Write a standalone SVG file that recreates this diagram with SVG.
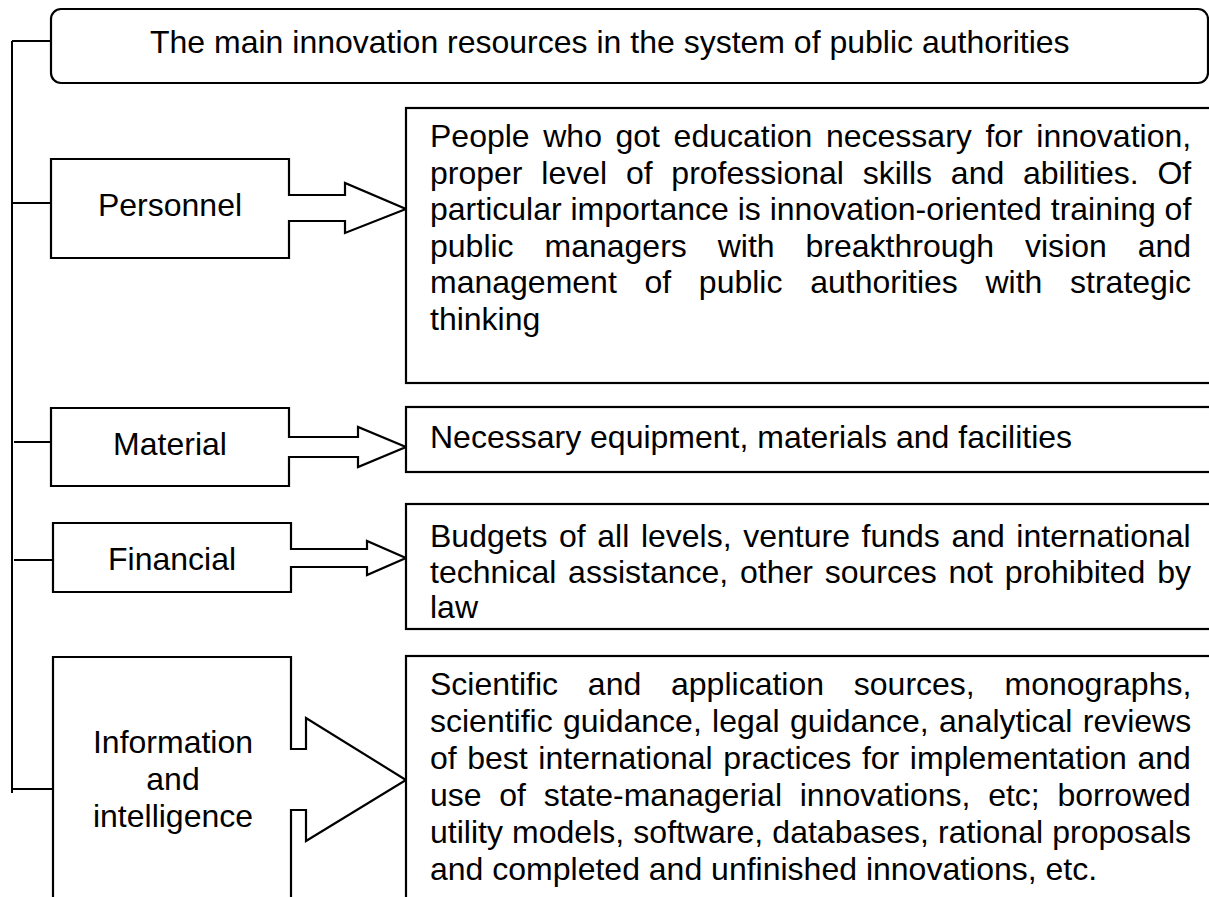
<svg xmlns="http://www.w3.org/2000/svg" width="1209" height="897" viewBox="0 0 1209 897">
<style>
.box{fill:#fff;stroke:#000;stroke-width:2.2}
.ln{fill:none;stroke:#000;stroke-width:2}
text{font-family:"Liberation Sans",Arial,sans-serif;font-size:32px;fill:#000}
.c{text-anchor:middle}
</style>
<rect width="1209" height="897" fill="#fff"/>
<g id="connectors">
<path class="ln" d="M12,41 V793 M12,41 H51 M12,203 H51 M14,442 H53 M14,560 H53 M12,789 H53"/>
</g>
<g id="title">
<rect class="box" x="51" y="9" width="1157" height="74" rx="10"/>
<text x="150" y="53">The main innovation resources in the system of public authorities</text>
</g>
<g id="personnel">
<path class="box" d="M51,159 H289 V195 H345 V183 L406,209 L345,233 V221 H289 V258 H51 Z"/>
<text class="c" x="170" y="216">Personnel</text>
</g>
<g id="personnel-desc">
<rect class="box" x="406" y="108" width="820" height="275"/>
<text x="430" y="147" word-spacing="4.7">People who got education necessary for innovation,</text>
<text x="430" y="183.6" word-spacing="9.9">proper level of professional skills and abilities. Of</text>
<text x="430" y="220.2" word-spacing="0">particular importance is innovation-oriented training of</text>
<text x="430" y="256.8" word-spacing="22">public managers with breakthrough vision and</text>
<text x="430" y="293.4" word-spacing="18.8">management of public authorities with strategic</text>
<text x="430" y="330">thinking</text>
</g>
<g id="material">
<path class="box" d="M51,408 H289 V437 H358 V427 L406,447 L358,467 V457 H289 V486 H51 Z"/>
<text class="c" x="170" y="455">Material</text>
</g>
<g id="material-desc">
<rect class="box" x="406" y="407" width="820" height="65"/>
<text x="430" y="448">Necessary equipment, materials and facilities</text>
</g>
<g id="financial">
<path class="box" d="M53,523 H291 V549 H367 V541 L406,558 L367,575 V567 H291 V592 H53 Z"/>
<text class="c" x="172" y="570">Financial</text>
</g>
<g id="financial-desc">
<rect class="box" x="406" y="504" width="820" height="125"/>
<text x="430" y="547" word-spacing="2.7">Budgets of all levels, venture funds and international</text>
<text x="430" y="582.5" word-spacing="2.9">technical assistance, other sources not prohibited by</text>
<text x="430" y="618">law</text>
</g>
<g id="information">
<path class="box" d="M53,910 V657 H291 V749 H306 V718 L406,780 L306,841 V810 H291 V910"/>
<text class="c" x="173" y="753">Information</text>
<text class="c" x="173" y="790">and</text>
<text class="c" x="173" y="827">intelligence</text>
</g>
<g id="information-desc">
<rect class="box" x="406" y="656" width="820" height="260"/>
<text x="430" y="695" word-spacing="20.9">Scientific and application sources, monographs,</text>
<text x="430" y="731.9" word-spacing="1.4">scientific guidance, legal guidance, analytical reviews</text>
<text x="430" y="768.8" word-spacing="1.7">of best international practices for implementation and</text>
<text x="430" y="805.7" word-spacing="8.8">use of state-managerial innovations, etc; borrowed</text>
<text x="430" y="842.6" word-spacing="0.3">utility models, software, databases, rational proposals</text>
<text x="430" y="879.5">and completed and unfinished innovations, etc.</text>
</g>
</svg>
